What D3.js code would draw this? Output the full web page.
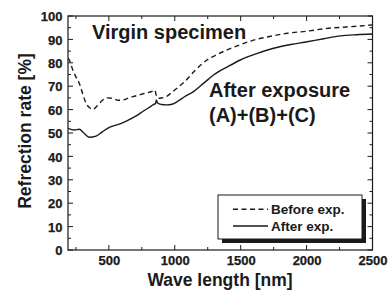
<!DOCTYPE html>
<html><head><meta charset="utf-8">
<script src="https://cdn.jsdelivr.net/npm/d3@7"></script>
<style>
html,body{margin:0;padding:0;background:#fff;}
svg{display:block;}
text{font-family:"Liberation Sans",Arial,sans-serif;font-weight:bold;fill:#1a1a1a;}
</style></head><body>
<svg id="c" width="389" height="294"></svg>
<script>
const xDomain = [190, 2500];
const yDomain = [0, 100];
const xTickValues = [500, 1000, 1500, 2000, 2500];
const yTickValues = [0, 10, 20, 30, 40, 50, 60, 70, 80, 90, 100];

const beforeWave = [190, 200, 226, 250, 276, 300, 327, 350, 378, 410, 454, 490, 530, 570, 606, 650, 700, 750, 800, 838, 848, 860, 872, 900, 935, 970, 1020, 1074, 1150, 1244, 1320, 1396, 1500, 1598, 1700, 1852, 2000, 2156, 2300, 2400, 2500];
const beforeRate = [82, 81.2, 77, 74, 71.2, 67, 62.7, 61, 60.1, 61.5, 64.1, 65, 64.8, 64, 64.1, 65, 65.8, 66.6, 67.3, 68.1, 68.4, 66, 64.8, 65, 65.5, 67, 69.3, 71.9, 76.5, 81.2, 83.5, 85.5, 87.8, 89.7, 91, 92.6, 93.5, 94.7, 95.3, 95.7, 96.2];

const afterWave = [190, 238, 276, 310, 352, 403, 450, 504, 580, 640, 707, 760, 821, 846, 855, 859, 872, 900, 935, 986, 1030, 1074, 1142, 1220, 1294, 1400, 1497, 1620, 1750, 1880, 2004, 2130, 2257, 2380, 2500];
const afterRate = [52, 51.3, 51.6, 50, 48.2, 48.7, 50.5, 52.4, 53.8, 55.3, 57.3, 59.3, 61.5, 62.4, 62.5, 64.1, 62.7, 62.2, 62, 62.4, 63.8, 65.5, 67.7, 71.3, 74.8, 78.3, 81.2, 83.9, 86.2, 87.8, 89, 90.3, 91.5, 92, 92.3];

const legendLabels = ["Before exp.", "After exp."];

const svg = d3.select("#c");
const L = 68, R = 372.5, T = 16, B = 250;
const x = d3.scaleLinear().domain(xDomain).range([L, R]);
const y = d3.scaleLinear().domain(yDomain).range([B, T]);
const ink = "#1a1a1a";
const FONT = '"Liberation Sans",Arial,sans-serif';

// frame
svg.append("rect").attr("x", L).attr("y", T).attr("width", R - L).attr("height", B - T)
  .attr("fill", "none").attr("stroke", ink).attr("stroke-width", 1.2);

// ticks (inward, all four sides)
const xMinor = d3.range(250, 2500, 250).filter(v => xTickValues.indexOf(v) < 0);
const yMinor = d3.range(5, 100, 10);
const tickG = svg.append("g").attr("stroke", ink).attr("stroke-width", 1);
function xt(vals, len) {
  vals.forEach(v => {
    tickG.append("line").attr("x1", x(v)).attr("x2", x(v)).attr("y1", B).attr("y2", B - len);
    tickG.append("line").attr("x1", x(v)).attr("x2", x(v)).attr("y1", T).attr("y2", T + len);
  });
}
function yt(vals, len) {
  vals.forEach(v => {
    tickG.append("line").attr("y1", y(v)).attr("y2", y(v)).attr("x1", L).attr("x2", L + len);
    tickG.append("line").attr("y1", y(v)).attr("y2", y(v)).attr("x1", R).attr("x2", R - len);
  });
}
xt(xTickValues, 5); xt(xMinor, 3);
yt(yTickValues, 5); yt(yMinor, 3);

// tick labels via axes
const xAxis = d3.axisBottom(x).tickValues(xTickValues).tickFormat(d3.format("d")).tickSize(0).tickPadding(0);
const gx = svg.append("g").attr("transform", `translate(0,${B})`).call(xAxis)
  .attr("font-family", FONT).attr("font-weight", "bold").attr("font-size", 13);
gx.select(".domain").remove();
gx.selectAll("text").attr("y", 15).attr("dy", 0).attr("fill", ink)
  .attr("stroke", ink).attr("stroke-width", 0.25);

const yAxis = d3.axisLeft(y).tickValues(yTickValues).tickFormat(d3.format("d")).tickSize(0).tickPadding(0);
const gy = svg.append("g").attr("transform", `translate(${L},0)`).call(yAxis)
  .attr("font-family", FONT).attr("font-weight", "bold").attr("font-size", 13);
gy.select(".domain").remove();
gy.selectAll("text").attr("x", -5.5).attr("dy", "0.36em").attr("fill", ink)
  .attr("stroke", ink).attr("stroke-width", 0.25);

// axis titles
svg.append("text").attr("x", 220).attr("y", 286).attr("text-anchor", "middle")
  .style("font-size", "17.5px").text("Wave length [nm]");
svg.append("text").attr("transform", "translate(31,131) rotate(-90)").attr("text-anchor", "middle")
  .style("font-size", "17.5px").text("Refrection rate [%]");

// lines
svg.append("clipPath").attr("id", "pc").append("rect")
  .attr("x", L).attr("y", T).attr("width", R - L).attr("height", B - T);
const line = d3.line().x(d => x(d[0])).y(d => y(d[1])).curve(d3.curveMonotoneX);
svg.append("path").datum(d3.zip(beforeWave, beforeRate)).attr("d", line)
  .attr("fill", "none").attr("stroke", ink).attr("stroke-width", 1.4)
  .attr("stroke-dasharray", "5,3.5").attr("clip-path", "url(#pc)");
svg.append("path").datum(d3.zip(afterWave, afterRate)).attr("d", line)
  .attr("fill", "none").attr("stroke", ink).attr("stroke-width", 1.4).attr("clip-path", "url(#pc)");

// annotations
svg.append("text").attr("x", 92).attr("y", 39).style("font-size", "20px").text("Virgin specimen");
svg.append("text").attr("x", 209).attr("y", 97).style("font-size", "20px").text("After exposure");
svg.append("text").attr("x", 209).attr("y", 122).style("font-size", "20px").text("(A)+(B)+(C)");

// legend
const lg = svg.append("g");
lg.append("rect").attr("x", 222).attr("y", 199).attr("width", 144).attr("height", 44).attr("fill", ink);
lg.append("rect").attr("x", 218).attr("y", 195).attr("width", 144).attr("height", 44)
  .attr("fill", "#fff").attr("stroke", ink).attr("stroke-width", 1);
const ly = [209.3, 226];
lg.append("line").attr("x1", 233).attr("x2", 268).attr("y1", ly[0]).attr("y2", ly[0])
  .attr("stroke", ink).attr("stroke-width", 1.4).attr("stroke-dasharray", "5,3.5");
lg.append("line").attr("x1", 233).attr("x2", 268).attr("y1", ly[1]).attr("y2", ly[1])
  .attr("stroke", ink).attr("stroke-width", 1.4);
legendLabels.forEach((t, i) => {
  lg.append("text").attr("x", 271).attr("y", ly[i] + 4.8).style("font-size", "13.5px").text(t);
});
</script>
</body></html>
